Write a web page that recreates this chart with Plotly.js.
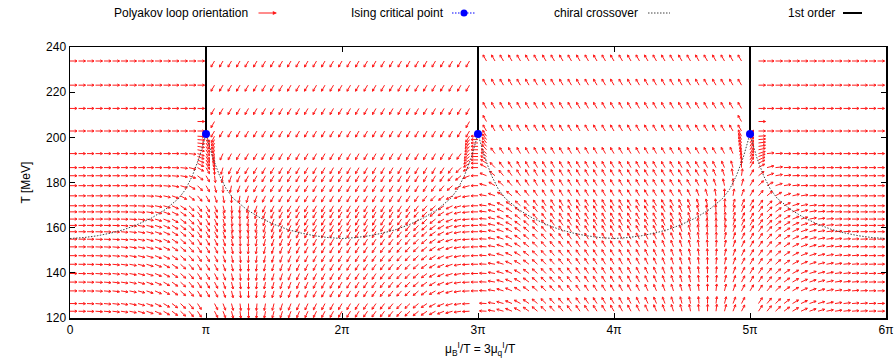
<!DOCTYPE html>
<html>
<head>
<meta charset="utf-8">
<script src="https://cdn.plot.ly/plotly-3.0.1.min.js"></script>
<style>
  html, body { margin: 0; padding: 0; background: #fff; }
  #chart { width: 895px; height: 362px; }
</style>
</head>
<body>
<div id="chart"></div>
<script>
// Temperature rows of the Polyakov-loop grid [MeV]
const T_ROWS = [123.0, 126.4, 132.0, 135.9, 139.7, 143.8, 147.6, 151.5, 154.9, 158.2,
                161.0, 163.8, 167.0, 169.7, 174.1, 178.6, 183.0, 186.6, 192.8, 202.8,
                212.8, 223.1, 233.8];

// Column offsets |u| from a Z3 sector centre, in units of pi/16
const U_STEPS = [0, 1, 2, 3, 4, 5, 6, 7, 8, 9, 10, 11, 12, 13, 14, 15, 16];

// Z3 sectors: centre in units of pi, and the phase of the loop at the centre [deg]
const SECTOR_CENTRES = [0, 2, 4, 6];
const SECTOR_PHASES = [0, -120, 120, 0];

// Phase offset from the sector phase for u >= 0 [deg]; one row per temperature,
// one entry per U_STEPS; null = no sample (odd in u)
const PHASE_OFFSET = [
  [0, -1, -2, -4, -5, -7, -9, -12, -16, -20, -25, -31, -37, -44, -51, -57, null],
  [0, -1, -2, -4, -5, -7, -9, -12, -16, -20, -25, -31, -37, -44, -51, -57, null],
  [0, -1, -2, -3, -5, -7, -9, -12, -15, -19, -24, -30, -36, -43, -50, -57, -60],
  [0, -1, -2, -3, -5, -7, -9, -12, -15, -19, -24, -30, -36, -43, -50, -57, -60],
  [0, -1, -2, -3, -4, -6, -8, -11, -14, -18, -23, -29, -35, -42, -50, -57, -60],
  [0, -1, -2, -3, -4, -6, -8, -11, -14, -18, -23, -29, -35, -42, -50, -57, -60],
  [0, -1, -1, -2, -4, -5, -7, -10, -13, -17, -22, -28, -35, -42, -49, -56, -60],
  [0, 0, -1, -2, -3, -5, -7, -9, -12, -16, -21, -27, -34, -41, -49, -56, -60],
  [0, 0, -1, -2, -3, -4, -6, -8, -11, -15, -20, -26, -33, -41, -48, -56, -60],
  [0, 0, 0, -1, -2, -3, -5, -7, -10, -14, -19, -25, -32, -40, -48, -56, -60],
  [0, 0, 0, 0, -1, -2, -4, -6, -9, -13, -18, -24, -31, -39, -47, -55, -60],
  [0, 0, 0, 0, 0, -1, -2, -4, -7, -11, -16, -22, -29, -37, -46, -55, -60],
  [0, 0, 0, 0, 0, 0, -1, -3, -5, -9, -14, -20, -27, -36, -45, -54, -60],
  [0, 0, 0, 0, 0, 0, 0, -1, -3, -6, -11, -17, -25, -34, -44, -53, -60],
  [0, 0, 0, 0, 0, 0, 0, 0, -2, -4, -8, -13, -20, -30, -40, -50, -60],
  [0, 0, 0, 0, 0, 0, 0, 0, 0, 0, -2, -5, -10, -18, -30, -45, -60],
  [0, 0, 0, 0, 0, 0, 0, 0, 0, 0, 0, -2, -5, -10, -20, -38, -60],
  [0, 0, 0, 0, 0, 0, 0, 0, 0, 0, 0, 0, -2, -6, -14, -30, -60],
  [0, 0, 0, 0, 0, 0, 0, 0, 0, 0, 0, 0, 0, -2, -6, -18, -60],
  [0, 0, 0, 0, 0, 0, 0, 0, 0, 0, 0, 0, 0, 0, 0, 0, null],
  [0, 0, 0, 0, 0, 0, 0, 0, 0, 0, 0, 0, 0, 0, 0, 0, null],
  [0, 0, 0, 0, 0, 0, 0, 0, 0, 0, 0, 0, 0, 0, 0, 0, null],
  [0, 0, 0, 0, 0, 0, 0, 0, 0, 0, 0, 0, 0, 0, 0, 0, null]
];

// Finer temperature rows next to each Roberge-Weiss endpoint
const FINE_T = [188.5, 190.0, 191.5, 194.5, 196.0, 197.5, 199.0, 200.5, 207.0];
const FINE_OFFSET_NEAR = [-27, -24, -20, -12, -9, -7, -5, -3, 0];      // at |u| = 15/16 pi
const FINE_OFFSET_RW = [-60, -60, -60, -60, -60, -60, -60, -60, null];  // on the RW line

// Ising critical endpoints of the first-order Roberge-Weiss lines
const CRIT_X = [1, 3, 5];
const CRIT_T = [201.5, 201.5, 201.5];
const FIRST_ORDER_TOP = 240;

// Chiral crossover, half-sector profile: |u| (units of pi) -> T [MeV]
const CROSS_U = [0, 0.1, 0.2, 0.3, 0.4, 0.5, 0.6, 0.7, 0.8, 0.85, 0.9, 0.95, 1.0];
const CROSS_T = [155.2, 155.6, 156.4, 157.6, 159.2, 161.5, 164.3, 168.0, 173.0, 177.0, 183.0, 191.0, 201.5];

const X_TICKS = [0, 1, 2, 3, 4, 5, 6];
const X_TICK_TEXT = ['0', 'π', '2π', '3π', '4π', '5π', '6π'];

// ---- geometry -------------------------------------------------------------
const W = 895, H = 362;
const M = { l: 70, r: 9, t: 47, b: 44 };
const PW = W - M.l - M.r, PH = H - M.t - M.b;
const X_RANGE = [0, 6], T_RANGE = [120, 240];
const pxX = PW / (X_RANGE[1] - X_RANGE[0]);
const pxT = PH / (T_RANGE[1] - T_RANGE[0]);
const ARROW_LEN = 7, HEAD_LEN = 2.5, HEAD_ANG = 28;
const STEP = 1 / 16;   // grid step in units of pi
const FINE_DOTS = '1.5px,1.5px';
const CROSS_COLOR = '#404040';

// collect arrow samples (x in units of pi, T, screen angle in deg)
const samples = [];
function addSample(x, t, phi) {
  if (phi === null || x < X_RANGE[0] || x >= X_RANGE[1]) return;
  samples.push([x, t, phi]);
}
SECTOR_CENTRES.forEach((c, s) => {
  const P = SECTOR_PHASES[s];
  T_ROWS.forEach((t, i) => {
    U_STEPS.forEach((j, jj) => {
      const off = PHASE_OFFSET[i][jj];
      if (off === null) return;
      const signs = (j === 0 || j === 16) ? [1] : [1, -1];
      signs.forEach(sg => addSample(c + sg * j * STEP, t, P + sg * off));
    });
  });
});
CRIT_X.forEach(xr => {
  const s = SECTOR_CENTRES.indexOf(xr - 1);
  const P = SECTOR_PHASES[s], PR = SECTOR_PHASES[s + 1];
  FINE_T.forEach((t, i) => {
    addSample(xr - STEP, t, P + FINE_OFFSET_NEAR[i]);
    addSample(xr + STEP, t, PR - FINE_OFFSET_NEAR[i]);
    if (FINE_OFFSET_RW[i] !== null) addSample(xr, t, P + FINE_OFFSET_RW[i]);
  });
});

// turn samples into shaft + head segments in data coordinates
const ax = [], ay = [];
const rad = Math.PI / 180;
samples.forEach(([x, t, phi]) => {
  const hx = x + ARROW_LEN * Math.cos(phi * rad) / pxX;
  const ht = t + ARROW_LEN * Math.sin(phi * rad) / pxT;
  ax.push(x, hx, null); ay.push(t, ht, null);
  [HEAD_ANG, -HEAD_ANG].forEach(d => {
    const a = (phi + 180 + d) * rad;
    ax.push(hx + HEAD_LEN * Math.cos(a) / pxX, hx, null);
    ay.push(ht + HEAD_LEN * Math.sin(a) / pxT, ht, null);
  });
});

// crossover curves, one per sector, mirrored about the sector centre
const cx = [], cy = [];
SECTOR_CENTRES.forEach(c => {
  const left = [], right = [];
  CROSS_U.forEach((u, k) => {
    left.push([c - u, CROSS_T[k]]);
    right.push([c + u, CROSS_T[k]]);
  });
  const pts = left.reverse().concat(right.slice(1))
    .filter(p => p[0] >= X_RANGE[0] - 1e-9 && p[0] <= X_RANGE[1] + 1e-9);
  pts.forEach(p => { cx.push(p[0]); cy.push(p[1]); });
  cx.push(null); cy.push(null);
});

// first-order lines
const fx = [], fy = [];
CRIT_X.forEach((x, k) => { fx.push(x, x, null); fy.push(CRIT_T[k], FIRST_ORDER_TOP, null); });

const traces = [
  { type: 'scatter', mode: 'lines', x: ax, y: ay, hoverinfo: 'skip',
    line: { color: '#ff1a1a', width: 1 }, showlegend: false },
  { type: 'scatter', mode: 'lines', x: cx, y: cy, hoverinfo: 'skip',
    line: { color: CROSS_COLOR, width: 1, dash: FINE_DOTS }, showlegend: false },
  { type: 'scatter', mode: 'lines', x: fx, y: fy, hoverinfo: 'skip',
    line: { color: '#000', width: 2 }, showlegend: false },
  { type: 'scatter', mode: 'markers', x: CRIT_X, y: CRIT_T, hoverinfo: 'skip',
    marker: { color: '#0000ff', size: 8 }, showlegend: false }
];

// key along the top, text right-aligned before its sample
const FONT = 'Liberation Sans, Arial, sans-serif';
const px2paperX = p => (p - M.l) / PW;
const px2paperY = p => 1 - (p - M.t) / PH;
const keyY = px2paperY(13);
const keyItems = [
  { text: 'Polyakov loop orientation', right: 250 },
  { text: 'Ising critical point', right: 446 },
  { text: 'chiral crossover', right: 640 },
  { text: '1st order', right: 837 }
];
const annotations = keyItems.map(k => ({
  xref: 'paper', yref: 'paper', x: px2paperX(k.right), y: keyY,
  xanchor: 'right', yanchor: 'middle', showarrow: false, text: k.text,
  font: { family: FONT, size: 12, color: '#000' }
}));
annotations.push({
  xref: 'paper', yref: 'paper', x: px2paperX(277), y: keyY, ax: -20, ay: 0,
  axref: 'pixel', ayref: 'pixel', text: '', showarrow: true,
  arrowhead: 2, arrowsize: 0.7, arrowwidth: 1.2, arrowcolor: '#ff1a1a'
});
annotations.push({
  xref: 'paper', yref: 'paper', x: px2paperX(16), y: 0.5, textangle: -90,
  showarrow: false, text: 'T [MeV]', font: { family: FONT, size: 12, color: '#000' }
});
annotations.push({
  xref: 'paper', yref: 'paper', x: px2paperX(480), y: px2paperY(349), yanchor: 'middle',
  showarrow: false, text: 'μ<sub>B</sub><sup>I</sup>/T = 3μ<sub>q</sub><sup>I</sup>/T',
  font: { family: FONT, size: 12, color: '#000' }
});

const shapes = [
  { type: 'line', xref: 'paper', yref: 'paper', x0: px2paperX(452), x1: px2paperX(476),
    y0: keyY, y1: keyY, line: { color: '#0000ff', width: 1, dash: FINE_DOTS } },
  { type: 'circle', xref: 'paper', yref: 'paper', xsizemode: 'pixel', ysizemode: 'pixel',
    xanchor: px2paperX(464), yanchor: keyY, x0: -3.5, x1: 3.5, y0: -3.5, y1: 3.5,
    fillcolor: '#0000ff', line: { width: 0 } },
  { type: 'line', xref: 'paper', yref: 'paper', x0: px2paperX(648), x1: px2paperX(670),
    y0: keyY, y1: keyY, line: { color: CROSS_COLOR, width: 1, dash: FINE_DOTS } },
  { type: 'line', xref: 'paper', yref: 'paper', x0: px2paperX(843), x1: px2paperX(862),
    y0: keyY, y1: keyY, line: { color: '#000', width: 2 } }
];

const axisCommon = {
  showline: true, linecolor: '#000', linewidth: 1.5, mirror: 'ticks',
  ticks: 'inside', ticklen: 5, tickwidth: 1, tickcolor: '#000',
  showgrid: false, zeroline: false, fixedrange: true,
  tickfont: { family: FONT, size: 12, color: '#000' }
};

const layout = {
  width: W, height: H, margin: M,
  paper_bgcolor: '#fff', plot_bgcolor: '#fff',
  showlegend: false,
  xaxis: Object.assign({}, axisCommon, {
    range: X_RANGE, tickmode: 'array', tickvals: X_TICKS, ticktext: X_TICK_TEXT
  }),
  yaxis: Object.assign({}, axisCommon, {
    range: T_RANGE, tickmode: 'linear', tick0: 120, dtick: 20
  }),
  annotations: annotations,
  shapes: shapes
};

Plotly.newPlot('chart', traces, layout, { staticPlot: true, displayModeBar: false });
</script>
</body>
</html>
